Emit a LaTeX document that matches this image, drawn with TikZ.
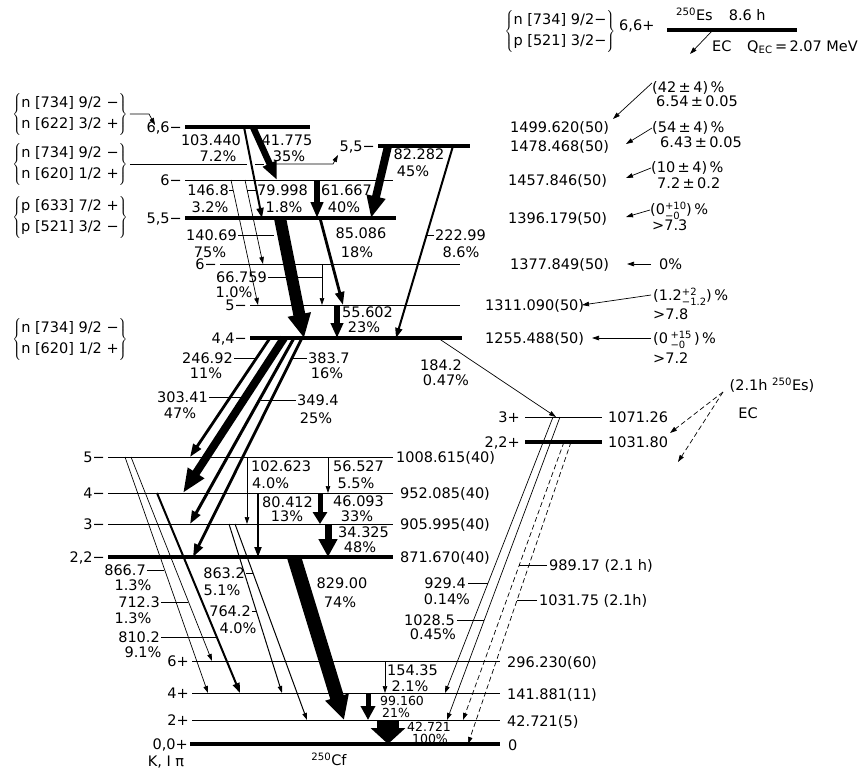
\documentclass[tikz,border=0pt]{standalone}
\usepackage{fontspec}
\setmainfont{DejaVu Sans}
\usetikzlibrary{arrows.meta}
\newcommand\mklev[5]{\coordinate (#1a) at (#2,#4);\coordinate (#1b) at (#3,#4);\draw[#5] (#1a) -- (#1b);}
\newcommand\mkgam[4]{\coordinate (#1a) at (#2);\coordinate (#1b) at (#3);\draw[#4] (#1a) -- (#1b);}
\newcommand\ud[2]{{\fontsize{10}{10}\selectfont\def\arraystretch{0.75}\begin{tabular}[c]{@{}l@{}}#1\\#2\end{tabular}}}
\newcommand\cfg[2]{$\left\{\mbox{\def\arraystretch{1.18}\begin{tabular}{@{}l@{}}#1\\#2\end{tabular}}\right\}$}
\begin{document}
\begin{tikzpicture}[x=1pt,y=-1pt,
  lab/.style={font=\fontsize{14.5}{17}\selectfont,inner sep=0pt,text height=10.5pt,text depth=0pt},
  sml/.style={font=\fontsize{12.5}{15}\selectfont,inner sep=0pt,text height=9pt,text depth=0pt},
  grp/.style={font=\fontsize{14.5}{17}\selectfont,inner sep=0pt},
  thinlev/.style={line width=0.8pt},
  thicklev/.style={line width=3.5pt},
  leader/.style={line width=0.6pt},
  thinarr/.style={line width=0.7pt,-{Triangle[length=7pt,width=4.5pt]}},
  medarr/.style={line width=2pt,-{Triangle[length=10pt,width=7pt]}},
  medtwo/.style={line width=2.8pt,-{Triangle[length=13pt,width=9pt]}},
  bigarr/.style n args={3}{line width=#1,-{Triangle[length=#2,width=#3]}},
  dasharr/.style={thinarr,dash pattern=on 5pt off 3pt},
]
\fill[white] (0,0) rectangle (863,772);
\useasboundingbox (0,0) rectangle (863,772);

% ---------------- levels
\mklev{L1499}{185}{310}{127}{thicklev}
\mklev{L1478}{378}{470}{146}{thicklev}
\mklev{L1457}{185}{393}{180}{thinlev}
\mklev{L1396}{185}{396}{218}{thicklev}
\mklev{L1377}{220}{460}{264}{thinlev}
\mklev{L1311}{250}{460}{305}{thinlev}
\mklev{L1255}{250}{462}{338}{thicklev}
\mklev{L1071}{525}{602}{417}{thinlev}
\mklev{L1031}{525}{602}{442}{thicklev}
\mklev{L1008}{108}{393}{457}{thinlev}
\mklev{L952}{108}{393}{493}{thinlev}
\mklev{L905}{108}{393}{524}{thinlev}
\mklev{L871}{108}{393}{557}{thicklev}
\mklev{L296}{192}{500}{661}{thinlev}
\mklev{L141}{192}{500}{693}{thinlev}
\mklev{L42}{192}{500}{720}{thinlev}
\mklev{L0}{190}{500}{744}{thicklev}
\mklev{LEs}{667}{797}{30}{thicklev}

% ---------------- spin labels
\node[lab,anchor=east] (s1499) at (182,127) {6,6−};
\node[lab,anchor=east] (s1478) at (375,146) {5,5−};
\node[lab,anchor=east] (s1457) at (182,180) {6−};
\node[lab,anchor=east] (s1396) at (182,218) {5,5−};
\node[lab,anchor=east] (s1377) at (217,264) {6−};
\node[lab,anchor=east] (s1311) at (247,305) {5−};
\node[lab,anchor=east] (s1255) at (247,338) {4,4−};
\node[lab,anchor=east] (s1071) at (520,417) {3+};
\node[lab,anchor=east] (s1031) at (520,442) {2,2+};
\node[lab,anchor=east] (s1008) at (105,457) {5−};
\node[lab,anchor=east] (s952) at (105,493) {4−};
\node[lab,anchor=east] (s905) at (105,524) {3−};
\node[lab,anchor=east] (s871) at (105,557) {2,2−};
\node[lab,anchor=east] (s296) at (189,661) {6+};
\node[lab,anchor=east] (s141) at (189,693) {4+};
\node[lab,anchor=east] (s42) at (189,720) {2+};
\node[lab,anchor=east] (s0) at (188,744) {0,0+};
\node[lab] (kip) at (166,761) {K, I π};
\node[lab] (cf) at (329,760) {\textsuperscript{250}Cf};

% ---------------- energy labels
\node[lab,anchor=west] (e1499) at (510,127) {1499.620(50)};
\node[lab,anchor=west] (e1478) at (510,146) {1478.468(50)};
\node[lab,anchor=west] (e1457) at (508,180) {1457.846(50)};
\node[lab,anchor=west] (e1396) at (508,218) {1396.179(50)};
\node[lab,anchor=west] (e1377) at (510,264) {1377.849(50)};
\node[lab,anchor=west] (e1311) at (485,305) {1311.090(50)};
\node[lab,anchor=west] (e1255) at (485,338) {1255.488(50)};
\node[lab,anchor=west] (e1071) at (608,417) {1071.26};
\node[lab,anchor=west] (e1031) at (608,442) {1031.80};
\node[lab,anchor=west] (e1008) at (396,457) {1008.615(40)};
\node[lab,anchor=west] (e952) at (400,493) {952.085(40)};
\node[lab,anchor=west] (e905) at (400,524) {905.995(40)};
\node[lab,anchor=west] (e871) at (400,557) {871.670(40)};
\node[lab,anchor=west] (e296) at (507,662) {296.230(60)};
\node[lab,anchor=west] (e141) at (507,694) {141.881(11)};
\node[lab,anchor=west] (e42) at (507,721) {42.721(5)};
\node[lab,anchor=west] (e0) at (508,745) {0};

% ---------------- EC feeding
\node[lab,anchor=west] (b1) at (652,87) {(42\,±\,4)\,\%};
\node[lab,anchor=west] (f1) at (656,101) {6.54\,±\,0.05};
\node[lab,anchor=west] (b2) at (652,127) {(54\,±\,4)\,\%};
\node[lab,anchor=west] (f2) at (660,142) {6.43\,±\,0.05};
\node[lab,anchor=west] (b3) at (651,167) {(10\,±\,4)\,\%};
\node[lab,anchor=west] (f3) at (657,183) {7.2\,±\,0.2};
\node[lab,anchor=west] (b4) at (650,209) {(0\ud{+10}{−0})\,\%};
\node[lab,anchor=west] (f4) at (652,225) {>7.3};
\node[lab,anchor=west] (b5) at (659,264) {0\%};
\node[lab,anchor=west] (b6) at (653,295) {(1.2\ud{+2}{−1.2})\,\%};
\node[lab,anchor=west] (f6) at (653,314) {>7.8};
\node[lab,anchor=west] (b7) at (653,338) {(0\,\ud{+15}{−0}\,)\,\%};
\node[lab,anchor=west] (f7) at (653,358) {>7.2};
\coordinate (a1) at (613,119); \draw[thinarr] ([yshift=4pt]b1.west) -- (a1);
\coordinate (a2) at (626,144); \draw[thinarr] ([yshift=-1pt]b2.west) -- (a2);
\coordinate (a3) at (626,178); \draw[thinarr] ([yshift=-1pt]b3.west) -- (a3);
\coordinate (a4) at (626,217); \draw[thinarr] ([yshift=-1pt]b4.west) -- (a4);
\coordinate (a5) at (627,264); \draw[thinarr] ([xshift=-8pt]b5.west) -- (a5);
\coordinate (a6) at (582,305); \draw[thinarr] ([xshift=-2pt]b6.west) -- (a6);
\coordinate (a7) at (592,338); \draw[thinarr] ([xshift=-2pt]b7.west) -- (a7);

% ---------------- parent
\node[grp] (G0) at (560,31) {\cfg{n [734] 9/2−}{p [521] 3/2−}};
\node[lab,anchor=west] (s66p) at (619,25) {6,6+};
\node[lab,anchor=west] (es) at (676,15) {\textsuperscript{250}Es\hspace{16pt}8.6 h};
\node[lab,anchor=west] (ec) at (712,46) {EC};
\node[lab,anchor=west] (qec) at (747,46) {Q\textsubscript{EC}\,=\,2.07 MeV};
\coordinate (ec1) at (712,31); \coordinate (ec2) at (690,54);
\draw[thinarr] (ec1) -- (ec2);

% ---------------- configurations
\node[grp] (G1) at (70,114) {\cfg{n [734] 9/2 −}{n [622] 3/2 +}};
\node[grp] (G2) at (70,164) {\cfg{n [734] 9/2 −}{n [620] 1/2 +}};
\node[grp] (G3) at (70,217) {\cfg{p [633] 7/2 +}{p [521] 3/2 −}};
\node[grp] (G4) at (70,339) {\cfg{n [734] 9/2 −}{n [620] 1/2 +}};
\coordinate (c1) at (149,114); \coordinate (c2) at (155,125);
\draw[thinarr] ([xshift=2pt]G1.east) -- (c1) -- (c2);
\coordinate (d1) at (247,164); \coordinate (d2) at (255,164); \coordinate (d3) at (264,164);
\coordinate (d4) at (276,164); \coordinate (d5) at (333,164); \coordinate (d6) at (338,155);
\draw[leader] ([xshift=2pt]G2.east) -- (d1);
\draw[leader] (d2) -- (d3);
\draw[thinarr] (d4) -- (d5) -- (d6);

% ---------------- upper transitions
\mkgam{g103}{244,127}{262,218}{medarr}
\mkgam{g41}{253,127}{277,180}{bigarr={6.5pt}{18pt}{14pt}}
\mkgam{g146}{231,180}{258,305}{thinarr}
\mkgam{g79}{245,180}{263,264}{thinarr}
\mkgam{g61}{317,180}{317,218}{bigarr={6pt}{16pt}{12pt}}
\mkgam{g82}{388,146}{371,218}{bigarr={8pt}{22pt}{18pt}}
\mkgam{g222}{453,146}{396,338}{medarr}
\mkgam{g140}{280,218}{304,338}{bigarr={12pt}{24pt}{22pt}}
\mkgam{g85}{320,218}{343,305}{medtwo}
\mkgam{g66}{322,264}{322,305}{thinarr}
\mkgam{g55}{337,305}{337,338}{bigarr={5.5pt}{15pt}{12pt}}

\node[lab] (v103) at (211,140) {103.440};
\node[lab] (p103) at (218,156) {7.2\%};
\node[lab] (v41) at (287,140) {41.775};
\node[lab] (p41) at (289,156) {35\%};
\node[lab] (v82) at (419,154) {82.282};
\node[lab] (p82) at (413,171) {45\%};
\node[lab,anchor=east] (v146) at (229,190) {146.8};
\node[lab] (p146) at (210,207) {3.2\%};
\node[lab,anchor=west] (v79) at (257,190) {79.998};
\node[lab] (p79) at (284,207) {1.8\%};
\node[lab,anchor=west] (v61) at (321,190) {61.667};
\node[lab] (p61) at (344,207) {40\%};
\node[lab,anchor=east] (v140) at (237,235) {140.69};
\node[lab] (p140) at (210,252) {75\%};
\node[lab] (v85) at (361,233) {85.086};
\node[lab] (p85) at (357,252) {18\%};
\node[lab,anchor=west] (v222) at (435,235) {222.99};
\node[lab] (p222) at (461,252) {8.6\%};
\node[lab,anchor=east] (v66) at (267,277) {66.759};
\node[lab] (p66) at (234,292) {1.0\%};
\node[lab,anchor=west] (v55) at (342,312) {55.602};
\node[lab] (p55) at (364,327) {23\%};
\coordinate (k146) at (233,190); \draw[leader] (v146.east) -- (k146);
\coordinate (k79) at (247,190); \draw[leader] ([xshift=-1pt]v79.west) -- (k79);
\coordinate (k140) at (274,235); \draw[leader] ([xshift=1pt]v140.east) -- (k140);
\coordinate (k222) at (427,235); \draw[leader] ([xshift=-1pt]v222.west) -- (k222);
\coordinate (k66) at (322,277); \draw[leader] ([xshift=1pt]v66.east) -- (k66);

% ---------------- from 1255
\mkgam{g246}{270,338}{190,457}{medtwo}
\mkgam{g303}{284,338}{183,493}{bigarr={8pt}{24pt}{18pt}}
\mkgam{g349}{294,338}{190,524}{line width=3pt,-{Triangle[length=13pt,width=9pt]}}
\mkgam{g383}{302,338}{193,557}{medtwo}
\mkgam{g184}{438,338}{556,417}{thinarr}
\node[lab,anchor=east] (v246) at (233,358) {246.92};
\node[lab] (p246) at (206,373) {11\%};
\node[lab,anchor=west] (v383) at (308,358) {383.7};
\node[lab] (p383) at (327,373) {16\%};
\node[lab,anchor=east] (v303) at (208,397) {303.41};
\node[lab] (p303) at (180,413) {47\%};
\node[lab,anchor=west] (v349) at (297,400) {349.4};
\node[lab] (p349) at (316,418) {25\%};
\node[lab] (v184) at (441,365) {184.2};
\node[lab] (p184) at (446,380) {0.47\%};
\coordinate (k246) at (256,358); \draw[leader] ([xshift=1pt]v246.east) -- (k246);
\coordinate (k383) at (293,358); \draw[leader] ([xshift=-1pt]v383.west) -- (k383);
\coordinate (k303) at (242,397); \draw[leader] ([xshift=1pt]v303.east) -- (k303);
\coordinate (k349) at (261,400); \draw[leader] ([xshift=-1pt]v349.west) -- (k349);

% ---------------- K=2 band
\mkgam{g102}{247,457}{247,524}{thinarr}
\mkgam{g56}{328,457}{328,493}{thinarr}
\mkgam{g80}{258,493}{258,557}{medarr}
\mkgam{g46}{320,493}{320,524}{bigarr={5pt}{12pt}{14pt}}
\mkgam{g34}{328,524}{328,557}{bigarr={7pt}{18pt}{18pt}}
\node[lab,anchor=west] (v102) at (251,466) {102.623};
\node[lab,anchor=west] (p102) at (252,483) {4.0\%};
\node[lab,anchor=west] (v56) at (333,466) {56.527};
\node[lab] (p56) at (356,483) {5.5\%};
\node[lab,anchor=west] (v80) at (262,502) {80.412};
\node[lab] (p80) at (287,516) {13\%};
\node[lab,anchor=west] (v46) at (333,501) {46.093};
\node[lab] (p46) at (357,516) {33\%};
\node[lab,anchor=west] (v34) at (338,532) {34.325};
\node[lab] (p34) at (360,547) {48\%};

% ---------------- to ground band
\mkgam{g866}{125,457}{208,693}{thinarr}
\mkgam{g712}{131,457}{212,661}{thinarr}
\mkgam{g810}{157,493}{240,693}{medarr}
\mkgam{g764}{229,524}{282,693}{thinarr,line width=1pt}
\mkgam{g863}{235,524}{307,720}{thinarr,line width=1pt}
\mkgam{g829}{294,557}{344,720}{bigarr={14pt}{24pt}{23pt}}
\mkgam{g929}{553,417}{445,693}{thinarr}
\mkgam{g1028}{560,417}{447,720}{thinarr}
\mkgam{g989}{564,442}{463,720}{dasharr}
\mkgam{g1031}{571,442}{468,744}{dasharr}
\mkgam{g154}{385,661}{385,693}{thinarr}
\mkgam{g99}{368,693}{368,720}{bigarr={5pt}{14pt}{14pt}}
\mkgam{g42}{388,720}{388,744}{bigarr={22pt}{16pt}{34pt}}

\node[lab,anchor=east] (v866) at (146,570) {866.7};
\node[lab] (p866) at (133,585) {1.3\%};
\node[lab,anchor=east] (v712) at (160,602) {712.3};
\node[lab] (p712) at (133,618) {1.3\%};
\node[lab,anchor=east] (v810) at (160,637) {810.2};
\node[lab] (p810) at (143,652) {9.1\%};
\node[lab,anchor=east] (v863) at (245,573) {863.2};
\node[lab] (p863) at (222,590) {5.1\%};
\node[lab,anchor=east] (v764) at (251,611) {764.2};
\node[lab] (p764) at (238,628) {4.0\%};
\node[lab] (v829) at (342,583) {829.00};
\node[lab] (p829) at (340,602) {74\%};
\node[lab,anchor=east] (v929) at (466,583) {929.4};
\node[lab] (p929) at (447,599) {0.14\%};
\node[lab,anchor=east] (v1028) at (455,620) {1028.5};
\node[lab] (p1028) at (433,634) {0.45\%};
\node[lab,anchor=west] (v989) at (549,565) {989.17 (2.1 h)};
\node[lab,anchor=west] (v1031) at (539,600) {1031.75 (2.1h)};
\node[lab,anchor=west] (v154) at (387,670) {154.35};
\node[lab] (p154) at (410,686) {2.1\%};
\node[sml,anchor=west] (v99) at (380,701) {99.160};
\node[sml] (p99) at (396,713) {21\%};
\node[sml,anchor=west] (v42) at (407,727) {42.721};
\node[sml] (p42) at (430,739) {100\%};
\coordinate (k866) at (164,570); \draw[leader] ([xshift=1pt]v866.east) -- (k866);
\coordinate (k712) at (188,602); \draw[leader] ([xshift=1pt]v712.east) -- (k712);
\coordinate (k810) at (216,637); \draw[leader] ([xshift=1pt]v810.east) -- (k810);
\coordinate (k863) at (253,573); \draw[leader] ([xshift=1pt]v863.east) -- (k863);
\coordinate (k764) at (256,611); \draw[leader] ([xshift=1pt]v764.east) -- (k764);
\coordinate (k929) at (488,583); \draw[leader] ([xshift=2pt]v929.east) -- (k929);
\coordinate (k1028) at (484,620); \draw[leader] ([xshift=2pt]v1028.east) -- (k1028);
\coordinate (k989) at (519,565); \draw[leader] ([xshift=-2pt]v989.west) -- (k989);
\coordinate (k1031) at (517,600); \draw[leader] ([xshift=-2pt]v1031.west) -- (k1031);

% ---------------- 2.1 h isomer
\node[lab] (h21) at (772,385) {(2.1h \textsuperscript{250}Es)};
\node[lab] (ec2h) at (748,413) {EC};
\coordinate (m0) at (723,392); \coordinate (m1) at (670,433); \coordinate (m2) at (678,462);
\draw[dasharr] (m0) -- (m1);
\draw[dasharr] (m0) -- (m2);
\end{tikzpicture}
\end{document}
